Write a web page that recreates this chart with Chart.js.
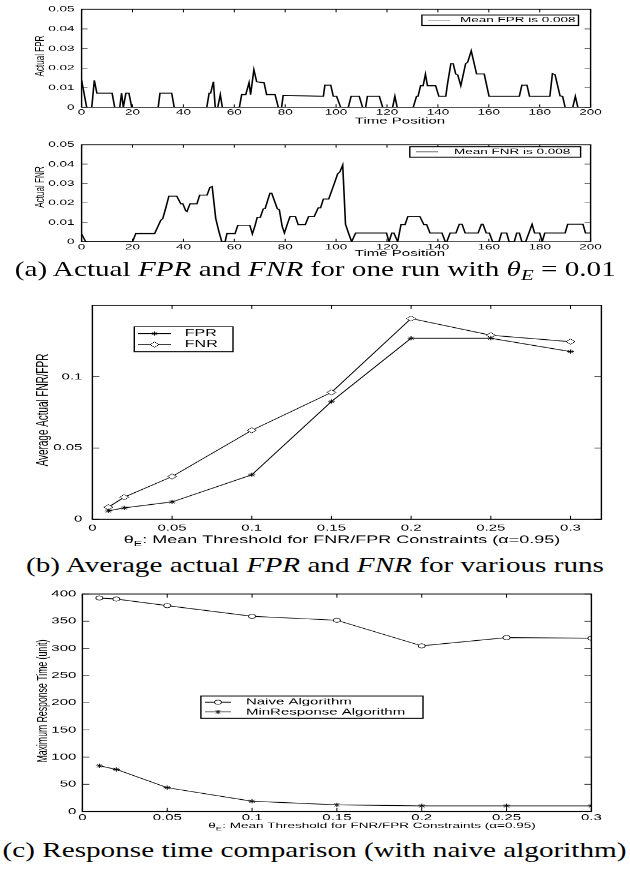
<!DOCTYPE html>
<html><head><meta charset="utf-8">
<script src="https://cdn.jsdelivr.net/npm/chart.js@4.4.1/dist/chart.umd.min.js"></script>
<style>
html,body{margin:0;padding:0;background:#fff;}
body{width:630px;height:876px;position:relative;overflow:hidden;}
.wrap{position:absolute;left:0;width:630px;transform-origin:0 0;}
.cap{position:absolute;left:0;width:630px;text-align:center;font-family:"Liberation Serif","Times New Roman",serif;font-size:21px;line-height:1;white-space:nowrap;color:#000;}
.cap span{display:inline-block;transform-origin:50% 50%;}
.cap sub{font-size:15px;vertical-align:-4px;line-height:0;}
</style></head>
<body>
<div class="wrap" id="wA1"><canvas id="cA1"></canvas></div>
<div class="wrap" id="wA2"><canvas id="cA2"></canvas></div>
<div class="cap" id="capA" style="top:259.4px"><span>(a) Actual <i>FPR</i> and <i>FNR</i> for one run with <i>θ<sub>E</sub></i> = 0.01</span></div>
<div class="wrap" id="wB"><canvas id="cB"></canvas></div>
<div class="cap" id="capB" style="top:555.4px"><span>(b) Average actual <i>FPR</i> and <i>FNR</i> for various runs</span></div>
<div class="wrap" id="wC"><canvas id="cC"></canvas></div>
<div class="cap" id="capC" style="top:840.4px"><span>(c) Response time comparison (with naive algorithm)</span></div>
<script>
// ---------- (a) Actual FPR / FNR for one run ----------
const fprTime = [0,2,4,5,6,12,13,15,15.7,16.4,17.4,18.6,19.7,30.1,30.8,35.4,36.4,49.2,50.1,50.7,51.8,52.5,53.5,54.5,55.3,62,62.9,64.5,65.8,66.4,67.7,68.8,71.7,72.7,76,77.3,78.6,79.2,95,95.6,97.9,98.9,100.2,101.8,104.8,105.9,109.1,110.4,111.6,112.3,117,118.3,122.2,123.1,124,130.3,131.6,132.2,133.2,134.2,135.1,135.9,139.1,140.4,143.1,143.7,145.1,146,147,147.8,149,150.9,151.7,153.1,155.2,158.2,160.1,172,173,175,176,184,185,186,188,189,190,193,194,195,200];
const fprValue = [0.0138,0,0,0.0138,0.0072,0.0072,0,0,0.0072,0,0.0072,0.0072,0,0,0.0072,0.0072,0,0,0.0072,0.0072,0.0131,0,0,0.0065,0,0,0.0065,0.0065,0.0126,0.0065,0.0192,0.013,0.0125,0.0065,0.0065,0,0,0.0061,0.0056,0.0113,0.0113,0.0056,0.0056,0,0,0.0056,0.0056,0,0,0.0056,0.0056,0,0,0.0056,0,0,0.0056,0.0056,0.011,0.011,0.0169,0.011,0.011,0.0056,0.0056,0.0113,0.0223,0.0223,0.017,0.0165,0.011,0.0223,0.023,0.0288,0.017,0.017,0.0056,0.0056,0.0113,0.0113,0.0056,0.0056,0.0172,0.0168,0.0058,0.0056,0,0,0.0056,0,0];
const fnrTime = [0,1.6,20,21.3,28.7,31.1,31.9,33,34.3,37.4,39,39.8,40.9,41.4,42.6,45.3,46.4,49.3,50.4,51.3,52.7,54,55.1,56.4,57.1,60.3,61.4,66.1,67.1,68.2,69,70.2,71.4,72.1,74,74.7,76.9,77.7,78.8,79.7,80.7,81.9,84,85.1,87.9,89.2,91.4,93,93.9,95,97.1,98.2,99.3,100.6,101.5,102.6,103.7,105,106.1,107.7,119.8,120.8,121.9,122.7,124.2,125.5,127.1,128.2,132.9,134.5,135.6,136.9,141.6,142.9,143.5,144.8,147.1,148.4,149.5,150.7,155.8,157.1,157.7,159,160.2,161.5,164,165,167,168,170,171,172,173,174.5,177,178,180,181,182,190,191,197,198,200];
const fnrValue = [0.004,0,0,0.0042,0.0042,0.011,0.012,0.017,0.0235,0.0235,0.0195,0.0195,0.016,0.0155,0.0195,0.0195,0.024,0.024,0.028,0.0285,0.012,0.005,0,0,0.0042,0.0042,0.0085,0.0085,0.004,0.0085,0.0125,0.0125,0.017,0.017,0.025,0.025,0.017,0.0165,0.008,0.0045,0.0085,0.013,0.013,0.0088,0.0088,0.013,0.013,0.0175,0.0175,0.022,0.022,0.026,0.03,0.035,0.036,0.0395,0.009,0.004,0,0.0045,0.0045,0,0.0045,0.0045,0,0.0088,0.0088,0.013,0.013,0.0088,0.0088,0.0045,0.0045,0,0,0.0045,0.0045,0.009,0.009,0.0045,0.0045,0.009,0.009,0.0045,0.0045,0,0,0.0045,0.0045,0,0,0.0045,0.0045,0,0,0.009,0.0045,0.0045,0,0.0045,0.0045,0.009,0.009,0.0045,0.0045];
const timeTicks = [0,20,40,60,80,100,120,140,160,180,200];
const timeTickLabels = ['0','20','40','60','80','100','120','140','160','180','200'];
const rateTicks = [0,0.01,0.02,0.03,0.04,0.05];
const rateTickLabels = ['0','0.01','0.02','0.03','0.04','0.05'];

// ---------- (b) Average actual FPR / FNR ----------
const thetaValues = [0.01,0.02,0.05,0.1,0.15,0.2,0.25,0.3];
const avgFPR = [0.0059,0.008,0.0122,0.0312,0.0826,0.127,0.127,0.1176];
const avgFNR = [0.0085,0.0155,0.030,0.0624,0.089,0.1408,0.1291,0.1246];
const thetaTicks = [0,0.05,0.1,0.15,0.2,0.25,0.3];
const thetaTickLabels = ['0','0.05','0.1','0.15','0.2','0.25','0.3'];
const avgTicks = [0,0.05,0.1];
const avgTickLabels = ['0','0.05','0.1'];

// ---------- (c) Response time comparison ----------
const naiveResp = [392.7,390.8,378.6,359,351.7,304.6,319.9,318.7];
const minResp = [84.1,77.4,43.9,18.9,12.2,10.4,10.4,10.4];
const respTicks = [0,50,100,150,200,250,300,350,400];
const respTickLabels = ['0','50','100','150','200','250','300','350','400'];

const K = 0.6; // vertical squeeze of the printed figures
const FONT = '"Liberation Sans", Arial, Helvetica, sans-serif';

function drawMarker(ctx, style, x, y, r) {
  ctx.save();
  ctx.strokeStyle = '#000'; ctx.lineWidth = 1; ctx.fillStyle = '#fff';
  ctx.beginPath();
  if (style === 'circle') { ctx.arc(x, y, r, 0, Math.PI * 2); ctx.fill(); ctx.stroke(); }
  else if (style === 'rectRot') { ctx.moveTo(x, y - r); ctx.lineTo(x + r, y); ctx.lineTo(x, y + r); ctx.lineTo(x - r, y); ctx.closePath(); ctx.fill(); ctx.stroke(); }
  else if (style === 'star') {
    for (let k = 0; k < 4; k++) { const a = k * Math.PI / 4; ctx.moveTo(x - Math.cos(a) * r, y - Math.sin(a) * r); ctx.lineTo(x + Math.cos(a) * r, y + Math.sin(a) * r); }
    ctx.stroke();
  }
  ctx.restore();
}

function drawRich(ctx, parts, cx, cy, size) {
  let w = 0;
  const segs = parts.map(p => { const s = p.sub ? size * 0.7 : size; ctx.font = s + 'px ' + FONT; const m = ctx.measureText(p.t).width; w += m; return { t: p.t, s: s, m: m, sub: p.sub }; });
  let x = cx - w / 2;
  ctx.textAlign = 'left'; ctx.textBaseline = 'middle'; ctx.fillStyle = '#000';
  segs.forEach(g => { ctx.font = g.s + 'px ' + FONT; ctx.fillText(g.t, x, cy + (g.sub ? size * 0.38 : 0)); x += g.m; });
}

const matlab = {
  id: 'matlab',
  afterDatasetsDraw(chart, args, o) {
    const { ctx, chartArea: a, scales: { x, y } } = chart;
    const cy = v => (v - o.top) / K;
    ctx.save();
    ctx.strokeStyle = '#000';
    ctx.lineWidth = 1.4;
    ctx.strokeRect(a.left, a.top, a.right - a.left, a.bottom - a.top);
    ctx.lineWidth = 1;
    ctx.beginPath();
    x.ticks.forEach(t => { const p = x.getPixelForValue(t.value); ctx.moveTo(p, a.bottom); ctx.lineTo(p, a.bottom - o.tx); ctx.moveTo(p, a.top); ctx.lineTo(p, a.top + o.tx); });
    y.ticks.forEach(t => { const p = y.getPixelForValue(t.value); ctx.moveTo(a.left, p); ctx.lineTo(a.left + o.ty, p); ctx.moveTo(a.right, p); ctx.lineTo(a.right - o.ty, p); });
    ctx.stroke();
    const L = o.legend;
    if (L) {
      const x0 = L.box[0], y0 = cy(L.box[1]), x1 = L.box[2], y1 = cy(L.box[3]);
      ctx.fillStyle = '#fff'; ctx.fillRect(x0, y0, x1 - x0, y1 - y0);
      ctx.lineWidth = 1.4; ctx.strokeStyle = '#000'; ctx.strokeRect(x0, y0, x1 - x0, y1 - y0);
      chart.data.datasets.forEach((ds, i) => {
        const ry = cy(L.rows[i]);
        ctx.strokeStyle = L.lineColor || '#000'; ctx.lineWidth = 1.3;
        ctx.beginPath(); ctx.moveTo(L.line[0], ry); ctx.lineTo(L.line[1], ry); ctx.stroke();
        if (ds.pointRadius > 0) drawMarker(ctx, ds.pointStyle, (L.line[0] + L.line[1]) / 2, ry, ds.pointRadius);
        ctx.fillStyle = '#000'; ctx.font = L.size + 'px ' + FONT; ctx.textAlign = 'left'; ctx.textBaseline = 'middle';
        ctx.fillText(ds.label, L.text, ry);
      });
    }
    if (o.xTitle) drawRich(ctx, o.xTitle.parts, o.xTitle.cx, cy(o.xTitle.cy), o.xTitle.size);
    if (o.yTitle) {
      ctx.save();
      ctx.translate(o.yTitle.cx, cy(o.yTitle.cy));
      ctx.rotate(-Math.PI / 2);
      ctx.font = o.yTitle.size + 'px ' + FONT; ctx.fillStyle = '#000'; ctx.textAlign = 'center'; ctx.textBaseline = 'middle';
      ctx.fillText(o.yTitle.text, 0, 0);
      ctx.restore();
    }
    ctx.restore();
  }
};

function xScale(o) {
  return {
    type: 'linear', position: 'bottom', min: o.min, max: o.max,
    afterBuildTicks: s => { s.ticks = o.ticks.map(v => ({ value: v })); },
    afterFit: s => { s.height = o.h; },
    ticks: { autoSkip: false, maxRotation: 0, minRotation: 0, padding: o.pad, color: '#000', font: { family: FONT, size: o.size }, callback: (v, i) => o.labels[i] },
    grid: { display: false, drawTicks: false }, border: { display: false }
  };
}
function yScale(o) {
  return {
    type: 'linear', position: 'left', min: o.min, max: o.max,
    afterBuildTicks: s => { s.ticks = o.ticks.map(v => ({ value: v })); },
    afterFit: s => { s.width = o.w; },
    ticks: { autoSkip: false, padding: o.pad, color: '#000', font: { family: FONT, size: o.size }, callback: (v, i) => o.labels[i] },
    grid: { display: false, drawTicks: false }, border: { display: false }
  };
}

function build(id, reg, datasets, sx, sy, mat) {
  const wrap = document.getElementById('w' + id);
  wrap.style.top = reg.top + 'px';
  wrap.style.height = reg.hc + 'px';
  wrap.style.transform = 'scaleY(' + K + ')';
  const T = (reg.T - reg.top) / K, B = (reg.B - reg.top) / K;
  sx.h = reg.hc - B; sy.w = reg.L;
  mat.top = reg.top;
  return new Chart(document.getElementById('c' + id), {
    type: 'line',
    data: { datasets: datasets },
    options: {
      responsive: true, maintainAspectRatio: false, animation: false, devicePixelRatio: 1,
      layout: { padding: { left: 0, top: T, right: 630 - reg.R, bottom: 0 } },
      plugins: { legend: { display: false }, tooltip: { enabled: false }, matlab: mat },
      scales: { x: xScale(sx), y: yScale(sy) }
    },
    plugins: [matlab]
  });
}

const pts = (xs, ys) => xs.map((v, i) => ({ x: v, y: ys[i] }));
const lineDs = (label, xs, ys) => ({ label: label, data: pts(xs, ys), borderColor: '#000', borderWidth: 1.6, pointRadius: 0, tension: 0, fill: false });
const markDs = (label, xs, ys, style, r) => ({ label: label, data: pts(xs, ys), borderColor: '#000', backgroundColor: '#fff', borderWidth: 1.2, pointStyle: style, pointRadius: r, pointBorderWidth: 1, pointBackgroundColor: '#fff', pointBorderColor: '#000', tension: 0, fill: false });

const aX = () => ({ min: 0, max: 200, ticks: timeTicks, labels: timeTickLabels, size: 13.5, pad: 0.6 });
const aY = () => ({ min: 0, max: 0.05, ticks: rateTicks, labels: rateTickLabels, size: 13.5, pad: 7 });

build('A1', { top: 0, hc: 217, L: 81.6, R: 590.6, T: 9.3, B: 107.3 },
  [lineDs('Mean FPR is 0.008', fprTime, fprValue)], aX(), aY(),
  { tx: 5, ty: 6,
    legend: { box: [421.9, 15, 578.5, 25.5], rows: [20.2], line: [428, 450], text: 460, size: 13.5, lineColor: '#8a8a8a' },
    xTitle: { parts: [{ t: 'Time Position' }], cx: 400, cy: 121, size: 15 },
    yTitle: { text: 'Actual FPR', cx: 40, cy: 56, size: 13.5 } });

build('A2', { top: 130, hc: 217, L: 81.6, R: 590.6, T: 144.7, B: 241.7 },
  [lineDs('Mean FNR is 0.008', fnrTime, fnrValue)], aX(), aY(),
  { tx: 5, ty: 6,
    legend: { box: [409.8, 146.7, 580.6, 157.2], rows: [151.9], line: [416, 438], text: 454, size: 13.5 },
    xTitle: { parts: [{ t: 'Time Position' }], cx: 400, cy: 253.5, size: 15 },
    yTitle: { text: 'Actual FNR', cx: 40, cy: 187, size: 13.5 } });

const thetaTitle = [{ t: 'θ' }, { t: 'E', sub: true }, { t: ': Mean Threshold for FNR/FPR Constraints (α=0.95)' }];

build('B', { top: 284, hc: 437, L: 92.4, R: 601.4, T: 305.4, B: 519.3 },
  [markDs('FPR', thetaValues, avgFPR, 'star', 3.5), markDs('FNR', thetaValues, avgFNR, 'rectRot', 4.5)],
  { min: 0, max: 0.3194, ticks: thetaTicks, labels: thetaTickLabels, size: 15, pad: 5.5 },
  { min: 0, max: 0.15, ticks: avgTicks, labels: avgTickLabels, size: 15, pad: 10 },
  { tx: 6, ty: 7,
    legend: { box: [134.3, 326.7, 233, 351.7], rows: [333.6, 344.6], line: [138, 171], text: 184.8, size: 16 },
    xTitle: { parts: thetaTitle, cx: 342, cy: 540, size: 18 },
    yTitle: { text: 'Average Actual FNR/FPR', cx: 43.5, cy: 410, size: 16.5 } });

build('C', { top: 585, hc: 417, L: 82.4, R: 591.4, T: 593.3, B: 811.5 },
  [markDs('Naive Algorithm', thetaValues, naiveResp, 'circle', 3.6), markDs('MinResponse Algorithm', thetaValues, minResp, 'star', 3.6)],
  { min: 0, max: 0.3, ticks: thetaTicks, labels: thetaTickLabels, size: 15, pad: 1.8 },
  { min: 0, max: 400, ticks: respTicks, labels: respTickLabels, size: 15, pad: 6 },
  { tx: 6, ty: 7,
    legend: { box: [200.9, 696, 423, 718.3], rows: [702.2, 711.9], line: [205, 231], text: 245.9, size: 15 },
    xTitle: { parts: thetaTitle, cx: 372, cy: 826, size: 13.5 },
    yTitle: { text: 'Maximum Response Time (unit)', cx: 42.5, cy: 701, size: 14.5 } });

// fit captions to the printed width
(function () {
  const spans = document.querySelectorAll('.cap span');
  const w = spans[0].getBoundingClientRect().width;
  const f = 601 / w;
  spans.forEach(s => { s.style.transform = 'scaleX(' + f + ')'; });
})();
</script>
</body></html>
